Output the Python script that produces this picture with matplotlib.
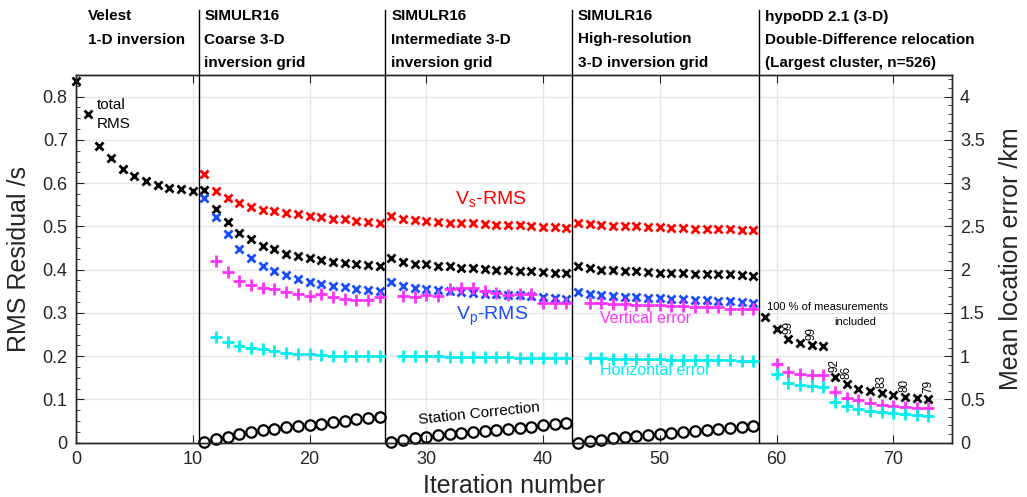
import numpy as np
import matplotlib
matplotlib.use("Agg")
import matplotlib.pyplot as plt
from matplotlib.ticker import MultipleLocator

plt.rcParams['font.family'] = ['Liberation Sans', 'DejaVu Sans']

# ---- data ----------------------------------------------------------------
it_total = np.arange(0, 74)
total_rms = [0.835, 0.760, 0.686, 0.657, 0.632, 0.617, 0.606, 0.596, 0.589, 0.586, 0.581,
             # coarse 3-D
             0.584, 0.541, 0.511, 0.485, 0.470, 0.454, 0.447, 0.437, 0.431, 0.426, 0.422,
             0.418, 0.416, 0.413, 0.410, 0.408,
             # intermediate 3-D
             0.426, 0.418, 0.414, 0.412, 0.409, 0.408, 0.405, 0.403, 0.401, 0.400, 0.399,
             0.397, 0.397, 0.395, 0.393, 0.393,
             # high-resolution 3-D
             0.409, 0.403, 0.400, 0.399, 0.397, 0.396, 0.395, 0.393, 0.393, 0.392, 0.391,
             0.390, 0.389, 0.389, 0.387, 0.386,
             # hypoDD
             0.291, 0.262, 0.239, 0.231, 0.225, 0.223, 0.152, 0.135, 0.124, 0.119, 0.114,
             0.110, 0.106, 0.104, 0.102]

it_3d = np.arange(11, 59)
vs_rms = [0.621, 0.582, 0.565, 0.553, 0.545, 0.539, 0.535, 0.531, 0.528, 0.524, 0.521,
          0.518, 0.516, 0.513, 0.511, 0.509,
          0.524, 0.517, 0.514, 0.512, 0.511, 0.509, 0.508, 0.507, 0.505, 0.504, 0.504,
          0.503, 0.501, 0.499, 0.498, 0.497,
          0.508, 0.505, 0.503, 0.502, 0.501, 0.500, 0.499, 0.498, 0.497, 0.496, 0.495,
          0.494, 0.494, 0.493, 0.492, 0.491]
vp_rms = [0.565, 0.521, 0.482, 0.448, 0.428, 0.409, 0.397, 0.387, 0.379, 0.371, 0.366,
          0.362, 0.359, 0.356, 0.353, 0.351,
          0.372, 0.363, 0.358, 0.356, 0.353, 0.351, 0.349, 0.347, 0.343, 0.343, 0.341,
          0.341, 0.339, 0.336, 0.334, 0.333,
          0.349, 0.343, 0.341, 0.339, 0.337, 0.336, 0.335, 0.335, 0.333, 0.332, 0.329,
          0.329, 0.328, 0.327, 0.326, 0.324]
station_corr = [0.002, 0.008, 0.013, 0.020, 0.025, 0.029, 0.032, 0.036, 0.038, 0.041, 0.044,
                0.047, 0.050, 0.054, 0.057, 0.060,
                0.002, 0.006, 0.010, 0.013, 0.017, 0.020, 0.023, 0.025, 0.027, 0.029, 0.031,
                0.034, 0.037, 0.040, 0.043, 0.045,
                0.000, 0.004, 0.007, 0.010, 0.013, 0.016, 0.018, 0.020, 0.023, 0.025, 0.027,
                0.029, 0.031, 0.034, 0.036, 0.039]

it_err = np.r_[np.arange(12, 27), np.arange(28, 43), np.arange(44, 59), np.arange(60, 74)]
vert_err = [2.10, 1.97, 1.865, 1.82, 1.79, 1.78, 1.74, 1.715, 1.70, 1.715, 1.685, 1.665,
            1.645, 1.655, 1.68,
            1.695, 1.68, 1.705, 1.695, 1.775, 1.79, 1.785, 1.755, 1.725, 1.705, 1.715,
            1.715, 1.62, 1.61, 1.61,
            1.61, 1.61, 1.60, 1.60, 1.595, 1.59, 1.59, 1.58, 1.58, 1.57, 1.57, 1.565,
            1.545, 1.55, 1.545,
            0.91, 0.82, 0.79, 0.785, 0.78, 0.585, 0.52, 0.49, 0.46, 0.44, 0.425, 0.415,
            0.405, 0.40]
horiz_err = [1.22, 1.16, 1.12, 1.10, 1.08, 1.06, 1.04, 1.03, 1.02, 1.01, 1.005, 1.0,
             1.0, 1.0, 1.0,
             1.005, 1.0, 1.0, 1.0, 0.995, 0.995, 0.99, 0.99, 0.985, 0.985, 0.98, 0.98,
             0.975, 0.975, 0.975,
             0.975, 0.975, 0.97, 0.97, 0.97, 0.965, 0.965, 0.96, 0.96, 0.96, 0.955, 0.955,
             0.955, 0.95, 0.95,
             0.79, 0.69, 0.665, 0.655, 0.645, 0.47, 0.42, 0.385, 0.365, 0.35, 0.34, 0.33,
             0.32, 0.31]

# percentage of measurements kept in hypoDD
pct_iter = [61, 63, 65, 66, 69, 71, 73]
pct_label = ['99', '99', '92', '86', '83', '80', '79']

stage_bounds = [10.5, 26.5, 42.5, 58.5]
stage_titles = [(1.0, ['Velest', '1-D inversion']),
                (11.0, ['SIMULR16', 'Coarse 3-D', 'inversion grid']),
                (27.0, ['SIMULR16', 'Intermediate 3-D', 'inversion grid']),
                (43.0, ['SIMULR16', 'High-resolution', '3-D inversion grid']),
                (59.0, ['hypoDD 2.1 (3-D)', 'Double-Difference relocation',
                        '(Largest cluster, n=526)'])]

# ---- figure --------------------------------------------------------------
W, H = 1027, 497
AX_TOP, AX_BOT = 75, 442.7
fig = plt.figure(figsize=(W / 100, H / 100), dpi=100)
ax = fig.add_axes([76 / W, 1 - AX_BOT / H, (951.7 - 76) / W, (AX_BOT - AX_TOP) / H])
ax2 = ax.twinx()

tc = '#262626'
red, blue, mag, cyan = '#ff0000', '#1a4cff', '#ff33ff', '#00eeee'

ax.plot(it_total, total_rms, 'x', color='k', ms=5.5, mew=2, clip_on=False, zorder=4)
ax.plot(it_3d, vs_rms, 'x', color=red, ms=5.5, mew=2, zorder=4)
ax.plot(it_3d, vp_rms, 'x', color=blue, ms=5.5, mew=2, zorder=4)
ax.plot(it_3d, station_corr, 'o', mfc='none', mec='k', ms=7.5, mew=1.6, clip_on=False, zorder=4)
ax2.plot(it_err, vert_err, '+', color=mag, ms=8, mew=2)
ax2.plot(it_err, horiz_err, '+', color=cyan, ms=8, mew=2)

ax.set_xlim(0, 75)
ax.set_ylim(0, 0.85)
ax2.set_ylim(0, 4.25)
ax.xaxis.set_major_locator(MultipleLocator(10))
ax.yaxis.set_major_locator(MultipleLocator(0.1))
ax.yaxis.set_minor_locator(MultipleLocator(0.025))
ax2.yaxis.set_major_locator(MultipleLocator(0.5))
ax2.yaxis.set_minor_locator(MultipleLocator(0.1))
ax.yaxis.set_major_formatter(plt.FuncFormatter(lambda v, p: '0' if v == 0 else f'{v:.1f}'))
ax2.yaxis.set_major_formatter(plt.FuncFormatter(lambda v, p: f'{v:g}'))

ax.grid(True, color='#e6e6e6', lw=1)
ax.set_axisbelow(True)
ax.tick_params(axis='both', which='both', direction='in', top=True, labelsize=13,
               colors=tc, pad=6)
ax.tick_params(which='major', length=6)
ax.tick_params(which='minor', length=3)
ax2.tick_params(axis='y', which='both', direction='in', labelsize=13, colors=tc, pad=6)
ax2.tick_params(which='major', length=6)
ax2.tick_params(which='minor', length=3)
for a in (ax, ax2):
    for s in a.spines.values():
        s.set_color(tc)
        s.set_linewidth(1)

ax.set_xlabel('Iteration number', fontsize=18, color=tc, labelpad=4)
ax.set_ylabel('RMS Residual /s', fontsize=18, color=tc, labelpad=8)
ax2.set_ylabel('Mean location error /km', fontsize=18, color=tc, labelpad=10)

# stage separators, running up into the header area
for xb in stage_bounds:
    ax.axvline(xb, ymin=0, ymax=(AX_BOT - 10) / (AX_BOT - AX_TOP), color='k', lw=1,
               clip_on=False, zorder=5)

for x0, lines in stage_titles:
    for i, line in enumerate(lines):
        ybase = 20.5 + 23 * i  # baseline, pixels from the top of the figure
        ax.text(x0, (AX_BOT - ybase) / (AX_BOT - AX_TOP), line,
                transform=ax.get_xaxis_transform(), ha='left', va='baseline',
                fontsize=11, fontweight='bold', color='k', clip_on=False)

# in-plot annotations
ax.text(1.8, 0.797, 'total\nRMS', fontsize=11, color='k', ha='left', va='top', linespacing=1.45)
ax.text(35.5, 0.561, r'V$_\mathregular{s}$-RMS', fontsize=14, color=red, ha='center', va='center')
ax.text(35.6, 0.292, r'V$_\mathregular{p}$-RMS', fontsize=14, color=blue, ha='center', va='center')
ax.text(44.9, 0.288, 'Vertical error', fontsize=11.5, color=mag, ha='left', va='center')
ax.text(44.9, 0.167, 'Horizontal error', fontsize=11.5, color=cyan, ha='left', va='center')
ax.text(34.5, 0.067, 'Station Correction', fontsize=11, color='k', ha='center', va='center',
        rotation=6)
ax.text(59.2, 0.313, '100 % of measurements', fontsize=8, color='k', ha='left', va='center')
ax.text(64.9, 0.278, 'included', fontsize=8, color='k', ha='left', va='center')

rms_lookup = dict(zip(it_total, total_rms))
for xi, lab in zip(pct_iter, pct_label):
    ax.text(xi, rms_lookup[xi] + 0.012, lab, fontsize=8.5, rotation=90, ha='center',
            va='bottom', color='k')

fig.savefig('out.png', dpi=100)
